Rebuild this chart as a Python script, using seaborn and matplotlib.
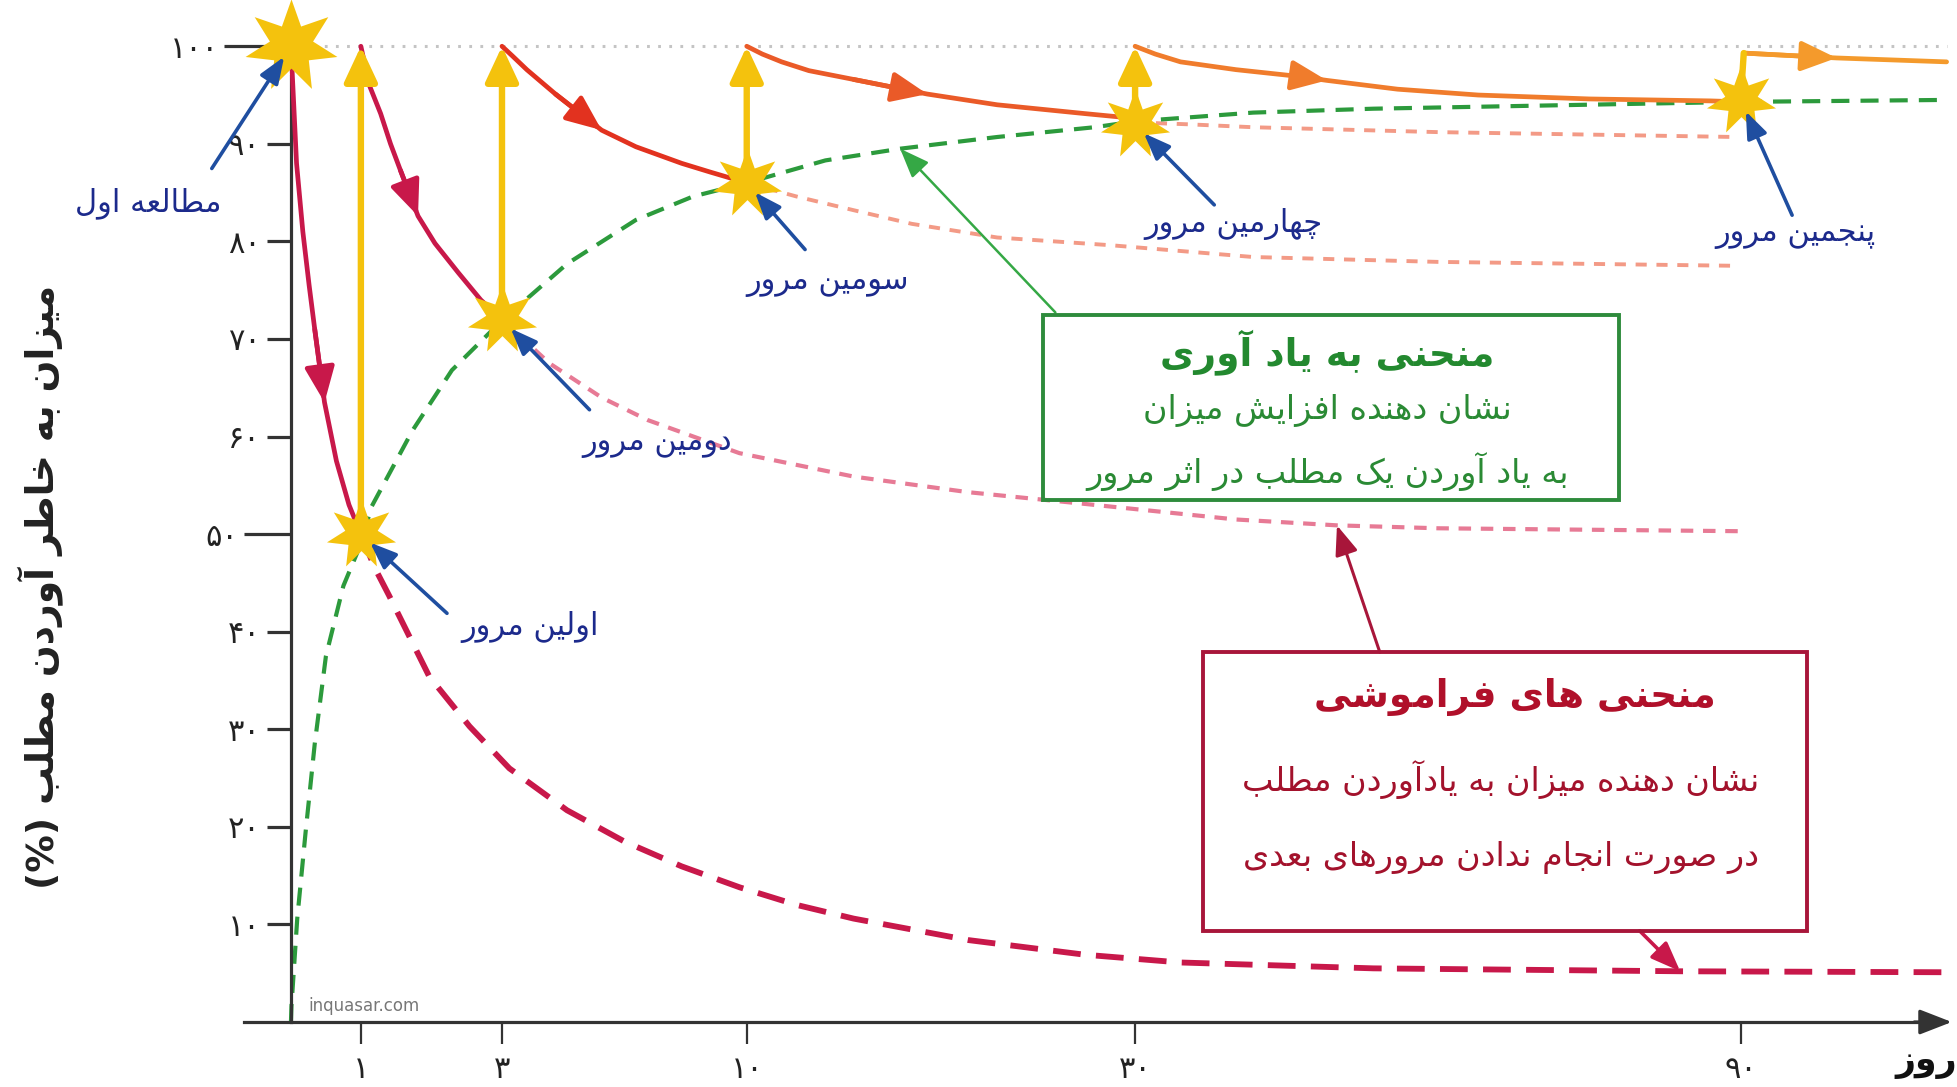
import numpy as np
import matplotlib
matplotlib.use("Agg")
import matplotlib.pyplot as plt
from matplotlib.patches import Rectangle
from matplotlib import font_manager
from fontTools.ttLib import TTFont
import seaborn as sns

# ---- data (days, recall %) ----
full_recall = 100
review_day = [0, 1, 3, 10, 30, 90]
review_recall = [100, 50, 72, 86, 92, 94.5]
review_label = ["مطالعه اول", "اولین مرور", "دومین مرور", "سومین مرور", "چهارمین مرور", "پنجمین مرور"]

# solid forgetting curves between reviews
decay1_day = [0, 0.08, 0.17, 0.26, 0.34, 0.48, 0.65, 0.83, 1]
decay1_val = [100, 88, 81, 75.5, 71, 63.5, 57.5, 53, 50]
decay2_day = [1, 1.12, 1.28, 1.42, 1.56, 1.81, 2.05, 2.38, 2.7, 3]
decay2_val = [100, 96, 93.1, 90, 87.3, 82.6, 79.8, 76.8, 74, 72]
decay3_day = [3, 3.3, 3.71, 4.53, 5.85, 6.83, 8.14, 8.96, 10]
decay3_val = [100, 99, 97.6, 95.1, 91.4, 89.7, 88.0, 87.1, 86]
decay4_day = [10, 10.8, 11.8, 13.2, 15.5, 19.3, 22.9, 27.4, 30]
decay4_val = [100, 99.2, 98.4, 97.5, 96.6, 95.1, 94.0, 93.1, 92.6]
decay5_day = [30, 32, 34.5, 40, 46.3, 49, 56, 64, 75, 87, 90]
decay5_val = [100, 99.2, 98.4, 97.6, 96.9, 96.5, 95.6, 95.0, 94.6, 94.4, 94.3]
decay6_day = [90.3, 99.5, 110.4]
decay6_val = [99.3, 98.8, 98.4]
arrow_at = [5, 5, 4, 5, 5, 1]   # index of the arrowhead on each solid curve

# dashed forgetting curves (no further review)
fade1_day = [1, 1.2, 1.4, 1.97, 2.54, 3.21, 4.86, 6.5, 8.14, 9.8, 12.57, 15.5, 21.4, 27.4, 34.5, 53.6, 84, 110.4]
fade1_val = [50, 46.5, 43.7, 35.4, 30.3, 26.0, 21.7, 18.5, 15.95, 13.8, 12.0, 10.6, 8.4, 6.9, 6.1, 5.5, 5.2, 5.1]
fade2_day = [3, 4.36, 5.85, 7.16, 9.79, 15.5, 21.4, 27.4, 40, 50, 60, 90]
fade2_val = [72, 67.5, 64.0, 61.7, 58.3, 55.9, 54.3, 53.1, 51.5, 50.9, 50.6, 50.3]
fade3_day = [10, 12.57, 15.5, 18.5, 22.9, 28.8, 41.7, 60, 89.5]
fade3_val = [86, 84.6, 83.2, 81.8, 80.4, 79.6, 78.4, 77.9, 77.5]
fade4_day = [30, 35.3, 41.7, 60, 89.5]
fade4_val = [92.2, 92.0, 91.7, 91.2, 90.7]

# recall curve (green)
recall_day = [0, 0.007, 0.09, 0.21, 0.34, 0.5, 0.75, 1, 1.15, 1.73, 2.29, 3, 4.86, 6.83, 8.46,
              10, 14.05, 17.9, 22.9, 27.9, 30, 41.7, 53.6, 90, 110.4]
recall_val = [0, 1.6, 10.6, 19.5, 28.5, 37.5, 44.7, 49, 52.8, 60.6, 66.8, 71.9, 77.7, 82.2, 84.6,
              86, 88.3, 89.5, 90.7, 91.7, 92.3, 93.2, 93.6, 94.3, 94.5]

x_ticks = [1, 3, 10, 30, 90]
y_ticks_major = [50, 100]
y_ticks_minor = [10, 20, 30, 40, 60, 70, 80, 90]

green_title = "منحنی به یاد آوری"
green_lines = ["نشان دهنده افزایش میزان", "به یاد آوردن یک مطلب در اثر مرور"]
red_title = "منحنی های فراموشی"
red_lines = ["نشان دهنده میزان به یادآوردن مطلب", "در صورت انجام ندادن مرورهای بعدی"]
y_label = "میزان به خاطر آوردن مطلب (%)"
x_label = "روز"

# ---- minimal Persian shaping (matplotlib has no RTL / joining) ----
FORMS = {
    "آ": (0xFE81, 2), "ا": (0xFE8D, 2), "ب": (0xFE8F, 4), "پ": (0xFB56, 4),
    "ت": (0xFE95, 4), "ث": (0xFE99, 4), "ج": (0xFE9D, 4), "چ": (0xFB7A, 4),
    "ح": (0xFEA1, 4), "خ": (0xFEA5, 4), "د": (0xFEA9, 2), "ذ": (0xFEAB, 2),
    "ر": (0xFEAD, 2), "ز": (0xFEAF, 2), "ژ": (0xFB8A, 2), "س": (0xFEB1, 4),
    "ش": (0xFEB5, 4), "ص": (0xFEB9, 4), "ض": (0xFEBD, 4), "ط": (0xFEC1, 4),
    "ظ": (0xFEC5, 4), "ع": (0xFEC9, 4), "غ": (0xFECD, 4), "ف": (0xFED1, 4),
    "ق": (0xFED5, 4), "ک": (0xFB8E, 4), "گ": (0xFB92, 4), "ل": (0xFEDD, 4),
    "م": (0xFEE1, 4), "ن": (0xFEE5, 4), "ه": (0xFEE9, 4), "و": (0xFEED, 2),
    "ی": (0xFBFC, 4),
}
LAM_ALEF = {"ا": 0xFEFB, "آ": 0xFEF5}
MIRROR = {"(": ")", ")": "("}
_cmap = TTFont(font_manager.findfont("DejaVu Sans")).getBestCmap()


def fa(text):
    out = []
    i = 0
    while i < len(text):
        c = text[i]
        prev = text[i - 1] if i > 0 else ""
        nxt = text[i + 1] if i + 1 < len(text) else ""
        joins_prev = prev in FORMS and FORMS[prev][1] == 4
        if c == "ل" and nxt in LAM_ALEF:
            out.append(chr(LAM_ALEF[nxt] + joins_prev))
            i += 2
            continue
        if c in FORMS:
            base, n = FORMS[c]
            joins_next = n == 4 and nxt in FORMS
            k = {(True, True): 3, (True, False): 1, (False, True): 2, (False, False): 0}[(joins_prev, joins_next)]
            g = base + k
            out.append(chr(g) if g in _cmap else c)
        else:
            out.append(MIRROR.get(c, c))
        i += 1
    return "".join(reversed(out))


def fa_num(v):
    return str(v).translate(str.maketrans("0123456789", "۰۱۲۳۴۵۶۷۸۹"))


# ---- the day axis is stretched by hand in the original: piecewise scale ----
U_DAY = [-10, 0, 1, 3, 10, 30, 90, 200]
U_POS = [-560, 0, 56, 169, 365, 676, 1161, 2050]


def fwd(d):
    return np.interp(d, U_DAY, U_POS)


def inv(u):
    return np.interp(u, U_POS, U_DAY)


# fat 7-point star marker
ang = np.pi / 2 + np.arange(14) * np.pi / 7
rad = np.where(np.arange(14) % 2 == 0, 1.0, 0.47)
star = list(zip(rad * np.cos(ang), rad * np.sin(ang)))

sns.set_style("white")
plt.rcParams["font.family"] = ["DejaVu Sans"]
plt.rcParams["lines.scale_dashes"] = False

fig = plt.figure(figsize=(19.58, 10.87), dpi=100)
ax = fig.add_axes([0, 0, 1, 1])
ax.set_xscale("function", functions=(fwd, inv))
ax.set_xlim(inv(-233), inv(1335))
ax.set_ylim(-6.66, 104.74)
ax.patch.set_alpha(0)

crimson = "#c8184a"
yellow = "#f4c20d"
green = "#2c9a3c"
navy = "#1c2a8c"
blue = "#1f4ea0"

# 100% reference line
sns.lineplot(x=[review_day[0], decay6_day[-1]], y=[full_recall, full_recall], ax=ax,
             color="#c4c4c4", lw=2.2, zorder=1)
ax.lines[-1].set_dashes((2, 6))

# dashed forgetting curves
for d, v, col, lw, dash in [
    (fade1_day, fade1_val, crimson, 4.2, (20, 11)),
    (fade2_day, fade2_val, "#e77a95", 3.0, (9, 7)),
    (fade3_day, fade3_val, "#f39a86", 2.8, (8, 7)),
    (fade4_day, fade4_val, "#f39a86", 2.8, (8, 7)),
]:
    sns.lineplot(x=d, y=v, ax=ax, color=col, lw=lw, sort=False, estimator=None, zorder=2)
    ax.lines[-1].set_dashes(dash)

# green recall curve
sns.lineplot(x=recall_day, y=recall_val, ax=ax, color=green, lw=3.0, sort=False, estimator=None, zorder=2)
ax.lines[-1].set_dashes((13, 8))

# solid forgetting curves with arrowheads
solid = [
    (decay1_day, decay1_val, crimson),
    (decay2_day, decay2_val, crimson),
    (decay3_day, decay3_val, "#e2321f"),
    (decay4_day, decay4_val, "#ea5a28"),
    (decay5_day, decay5_val, "#f07c2c"),
    (decay6_day, decay6_val, "#f49a2c"),
]
for (d, v, col), k in zip(solid, arrow_at):
    sns.lineplot(x=d, y=v, ax=ax, color=col, lw=3.4, sort=False, estimator=None, zorder=3)
    ax.annotate("", xy=(d[k], v[k]), xytext=(d[k - 1], v[k - 1]),
                arrowprops=dict(arrowstyle="-|>,head_length=0.9,head_width=0.38", color=col,
                                lw=3.4, mutation_scale=24, shrinkA=0, shrinkB=0), zorder=3)

# yellow review jumps
for d, v in zip(review_day[1:5], review_recall[1:5]):
    ax.annotate("", xy=(d, full_recall), xytext=(d, v),
                arrowprops=dict(arrowstyle="-|>,head_length=0.9,head_width=0.42", color=yellow,
                                lw=4.6, mutation_scale=24, shrinkA=0, shrinkB=0), zorder=4)
ax.annotate("", xy=(decay6_day[0], decay6_val[0]), xytext=(review_day[5], review_recall[5]),
            arrowprops=dict(arrowstyle="-", color=yellow, lw=4.6, shrinkA=0, shrinkB=0), zorder=4)

# axes lines
ax.spines[["top", "right"]].set_visible(False)
for s in ["left", "bottom"]:
    ax.spines[s].set_position(("data", 0))
    ax.spines[s].set_linewidth(2.3)
    ax.spines[s].set_color("#333333")
ax.spines["left"].set_bounds(0, 97)
ax.spines["bottom"].set_bounds(inv(-38), inv(1310))
ax.annotate("", xy=(inv(1330), 0), xytext=(inv(1300), 0),
            arrowprops=dict(arrowstyle="-|>,head_length=0.9,head_width=0.35", color="#333333",
                            lw=2.3, mutation_scale=22, shrinkA=0, shrinkB=0))

ax.set_yticks(y_ticks_major)
ax.set_yticklabels([fa_num(t) for t in y_ticks_major])
ax.set_yticks(y_ticks_minor, minor=True)
ax.set_yticklabels([fa_num(t) for t in y_ticks_minor], minor=True)
ax.tick_params(axis="y", which="both", left=True, direction="out", width=2.3, color="#333333",
               labelsize=22, labelcolor="#222222")
ax.tick_params(axis="y", which="major", length=34, pad=4)
ax.tick_params(axis="y", which="minor", length=17, pad=5)
# the 100 tick runs further left in the original
ax.yaxis.get_major_ticks()[1]._apply_params(size=48)
ax.set_xticks(x_ticks)
ax.set_xticklabels([fa_num(t) for t in x_ticks])
ax.xaxis.set_minor_locator(matplotlib.ticker.NullLocator())
ax.tick_params(axis="x", bottom=True, direction="out", length=16, width=1.6, color="#333333",
               pad=8, labelsize=22, labelcolor="#222222")
ax.set_xlabel("")
ax.set_ylabel("")

# stars
sns.scatterplot(x=review_day[:1], y=review_recall[:1], ax=ax, marker=star, s=4600,
                color=yellow, linewidth=0, zorder=5)
sns.scatterplot(x=review_day[1:], y=review_recall[1:], ax=ax, marker=star, s=2600,
                color=yellow, linewidth=0, zorder=5)

# blue labels with arrows (offsets in points from each star)
label_offset = [(-103, -113), (122, -67), (112, -89), (58, -72), (71, -72), (39, -97)]
tail_offset = [(-57, -88), (62, -57), (63, -65), (42, -48), (57, -58), (37, -83)]
for d, v, lab, lo, to in zip(review_day, review_recall, review_label, label_offset, tail_offset):
    ax.annotate("", xy=(d, v), xytext=to, textcoords="offset points",
                arrowprops=dict(arrowstyle="-|>,head_length=0.9,head_width=0.35", color=blue,
                                lw=2.6, mutation_scale=18, shrinkA=0, shrinkB=9), zorder=6)
    ax.annotate(fa(lab), xy=(d, v), xytext=lo, textcoords="offset points", ha="center",
                va="center", fontsize=22, color=navy, zorder=6)

# green box
fig.add_artist(Rectangle((0.5325, 0.5402), 0.2946, 0.1701, transform=fig.transFigure,
                         fill=False, edgecolor="#2e8b3c", lw=2.8))
fig.text(0.678, 0.676, fa(green_title), ha="center", va="center", fontsize=27,
         fontweight="bold", color="#23892f")
for yy, line in zip([0.622, 0.566], green_lines):
    fig.text(0.678, yy, fa(line), ha="center", va="center", fontsize=24, color="#2a8a34")
ax.annotate("", xy=(recall_day[17], recall_val[17]), xytext=(0.539, 0.7126),
            textcoords="figure fraction",
            arrowprops=dict(arrowstyle="-|>,head_length=0.9,head_width=0.35", color="#35a845",
                            lw=1.8, mutation_scale=20, shrinkA=0, shrinkB=0))

# red box
fig.add_artist(Rectangle((0.6142, 0.1437), 0.3087, 0.2563, transform=fig.transFigure,
                         fill=False, edgecolor="#a8163a", lw=2.8))
fig.text(0.7736, 0.3586, fa(red_title), ha="center", va="center", fontsize=27,
         fontweight="bold", color="#b0102a")
for yy, line in zip([0.2828, 0.2115], red_lines):
    fig.text(0.7665, yy, fa(line), ha="center", va="center", fontsize=24, color="#a3122c")
ax.annotate("", xy=(fade2_day[9], fade2_val[9]), xytext=(0.7047, 0.4),
            textcoords="figure fraction",
            arrowprops=dict(arrowstyle="-|>,head_length=0.9,head_width=0.35", color="#a8163a",
                            lw=2.2, mutation_scale=20, shrinkA=0, shrinkB=0))
ax.annotate("", xy=(fade1_day[16], fade1_val[16]), xytext=(0.8374, 0.1437),
            textcoords="figure fraction",
            arrowprops=dict(arrowstyle="-|>,head_length=0.9,head_width=0.35", color="#c8184a",
                            lw=2.6, mutation_scale=20, shrinkA=0, shrinkB=0))

# axis titles and watermark
fig.text(0.0204, 0.46, fa(y_label), rotation=90, ha="center", va="center", fontsize=27,
         fontweight="bold", color="#222222")
fig.text(0.984, 0.023, fa(x_label), ha="center", va="center", fontsize=25,
         fontweight="bold", color="#111111")
fig.text(0.1575, 0.0747, "inquasar.com", ha="left", va="center", fontsize=12, color="#777777")

fig.savefig("out.png", dpi=100, facecolor="white")
